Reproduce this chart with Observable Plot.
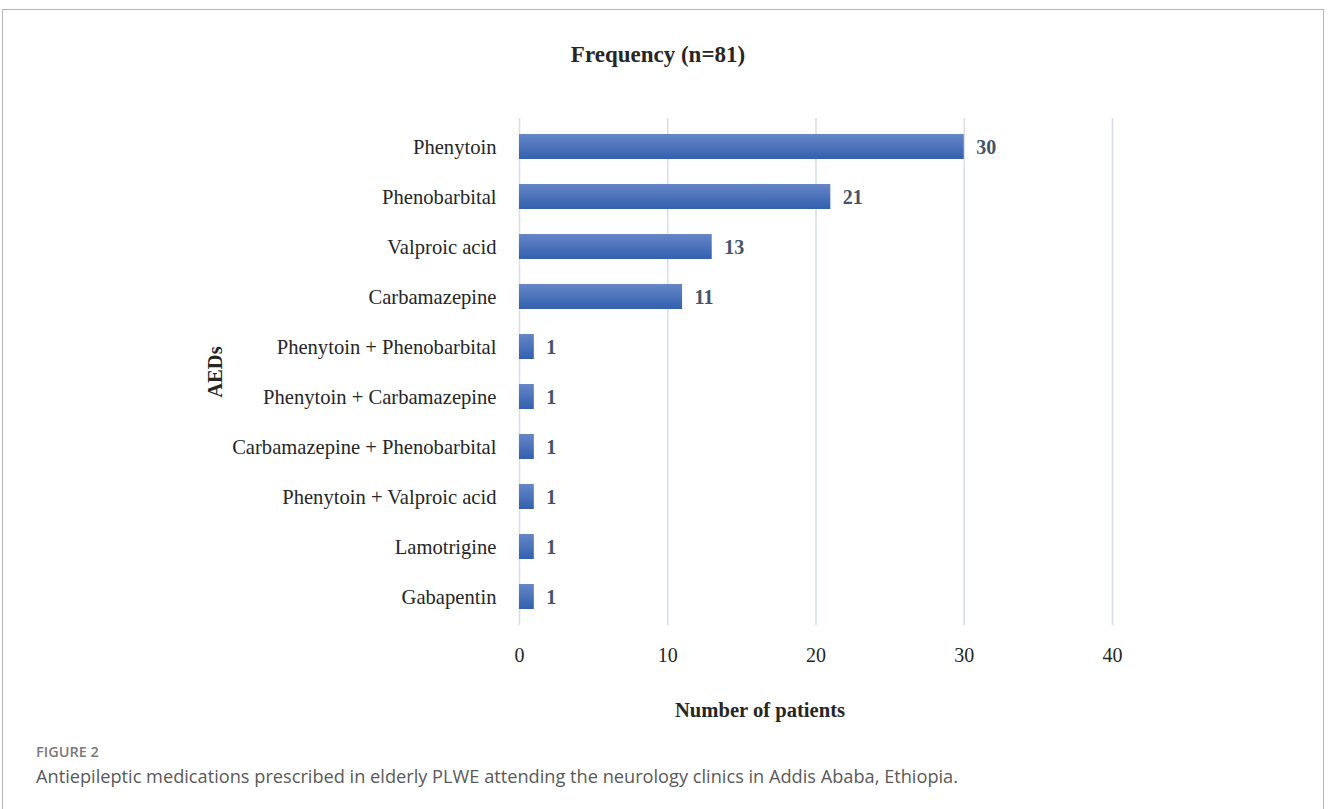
<!DOCTYPE html>
<html>
<head>
<meta charset="utf-8">
<script src="https://cdn.jsdelivr.net/npm/d3@7"></script>
<script src="https://cdn.jsdelivr.net/npm/@observablehq/plot@0.6"></script>
<style>
  html, body { margin: 0; padding: 0; background: #fff; }
  body { width: 1328px; height: 809px; position: relative; overflow: hidden; }
  #box { position: absolute; left: 2px; top: 9px; width: 1322px; height: 900px; border: 1.5px solid #b5b5b5; box-sizing: border-box; }
  #chart { position: absolute; left: 0; top: 0; }
  .serif { font-family: "Liberation Serif", "Times New Roman", serif; color: #262626; font-weight: bold; position: absolute; white-space: nowrap; line-height: 1; }
  #title { left: 0; width: 1316px; text-align: center; top: 43px; font-size: 23px; }
  #xlabel { left: 0; width: 1520px; text-align: center; top: 700px; font-size: 20.6px; }
  #ylabel { left: 215px; top: 372px; font-size: 20.6px; transform: translate(-50%, -50%) rotate(-90deg); }
  #fig { position: absolute; left: 36px; top: 745px; font-family: "Open Sans", Lato, sans-serif; font-weight: 600; font-size: 14.5px; color: #7a7a7a; line-height: 1; }
  #cap { position: absolute; left: 36px; top: 767px; font-family: "Open Sans", Lato, sans-serif; font-size: 18.2px; color: #595959; line-height: 1; white-space: nowrap; }
</style>
</head>
<body>
<div id="box"></div>
<div id="chart"></div>
<div id="title" class="serif">Frequency (n=81)</div>
<div id="xlabel" class="serif">Number of patients</div>
<div id="ylabel" class="serif">AEDs</div>
<div id="fig">FIGURE 2</div>
<div id="cap">Antiepileptic medications prescribed in elderly PLWE attending the neurology clinics in Addis Ababa, Ethiopia.</div>
<script>
const drugs = [
  "Phenytoin",
  "Phenobarbital",
  "Valproic acid",
  "Carbamazepine",
  "Phenytoin + Phenobarbital",
  "Phenytoin + Carbamazepine",
  "Carbamazepine + Phenobarbital",
  "Phenytoin + Valproic acid",
  "Lamotrigine",
  "Gabapentin"
];
const patients = [30, 21, 13, 11, 1, 1, 1, 1, 1, 1];
const xTicks = [0, 10, 20, 30, 40];

const data = drugs.map((d, i) => ({ drug: d, n: patients[i] }));

const serif = "'Liberation Serif', 'Times New Roman', serif";

const chart = Plot.plot({
  width: 1328,
  height: 730,
  marginLeft: 519,
  marginRight: 216,
  marginTop: 118,
  marginBottom: 105,
  style: { fontFamily: serif, fontSize: "20px", color: "#262626", background: "transparent", overflow: "visible" },
  x: { domain: [0, 40], label: null },
  y: { domain: drugs, paddingInner: 0.5, paddingOuter: 0.25, label: null },
  marks: [
    Plot.gridX(xTicks, { stroke: "#d9dee8", strokeOpacity: 1, strokeWidth: 1.6 }),
    Plot.barX(data, { x: "n", y: "drug", fill: "url(#barGrad)" }),
    Plot.text(data, {
      x: "n", y: "drug", text: d => String(d.n),
      textAnchor: "start", dx: 12, dy: 1,
      fontWeight: "bold", fill: "#44546a", fontSize: 20, fontFamily: serif
    }),
    Plot.axisX(xTicks, { tickSize: 0, tickPadding: 22, label: null, fontSize: 20, fill: "#262626", tickFormat: d => String(d) }),
    Plot.axisY({ tickSize: 0, tickPadding: 23, label: null, fontSize: 20.6, fill: "#262626" })
  ]
});

const ns = "http://www.w3.org/2000/svg";
const defs = document.createElementNS(ns, "defs");
const grad = document.createElementNS(ns, "linearGradient");
grad.setAttribute("id", "barGrad");
grad.setAttribute("x1", "0"); grad.setAttribute("y1", "0");
grad.setAttribute("x2", "0"); grad.setAttribute("y2", "1");
[["0%", "#6686c8"], ["100%", "#3360ae"]].forEach(([o, c]) => {
  const s = document.createElementNS(ns, "stop");
  s.setAttribute("offset", o);
  s.setAttribute("stop-color", c);
  grad.appendChild(s);
});
defs.appendChild(grad);
chart.insertBefore(defs, chart.firstChild);

document.getElementById("chart").appendChild(chart);
</script>
</body>
</html>
